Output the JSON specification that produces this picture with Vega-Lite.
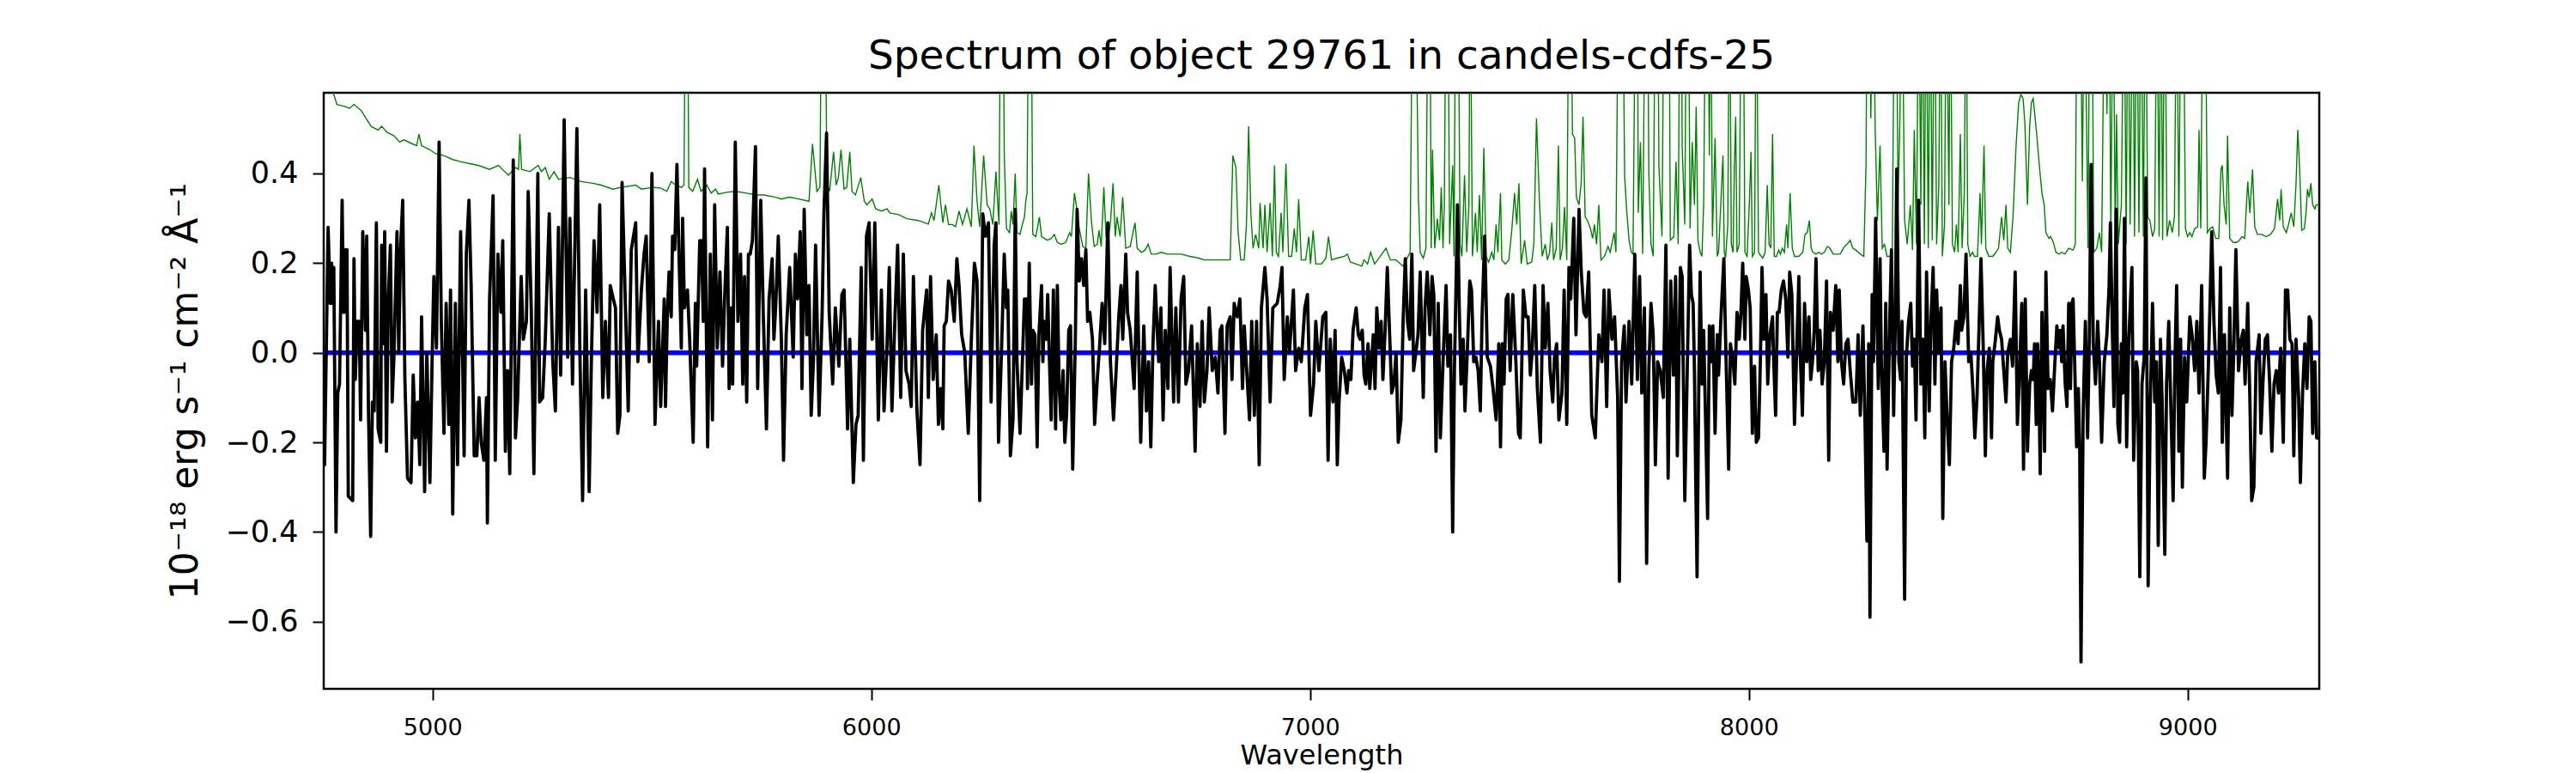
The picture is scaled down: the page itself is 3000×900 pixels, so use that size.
{
  "$schema": "https://vega.github.io/schema/vega-lite/v6.json",
  "autosize": "none",
  "padding": {"left": 377, "top": 108, "right": 299, "bottom": 98},
  "width": 2324,
  "height": 694,
  "background": "white",
  "config": {
    "font": "DejaVu Sans",
    "view": {"stroke": "black", "strokeWidth": 2.5},
    "axis": {
      "grid": false,
      "domain": false,
      "tickColor": "black",
      "tickWidth": 2,
      "tickSize": 13,
      "labelColor": "black",
      "titleColor": "black",
      "titleFontWeight": "normal"
    }
  },
  "title": {
    "text": "Spectrum of object 29761 in candels-cdfs-25",
    "fontSize": 47,
    "fontWeight": "normal",
    "color": "black",
    "anchor": "middle",
    "baseline": "alphabetic",
    "offset": -19
  },
  "datasets": {
    "err": [
      {"w":4752,"f":0.62},{"w":4775,"f":0.576},{"w":4782,"f":0.554},{"w":4801,"f":0.549},{"w":4811,"f":0.545},{"w":4821,"f":0.554},{"w":4837,"f":0.541},{"w":4860,"f":0.505},{"w":4876,"f":0.497},{"w":4884,"f":0.505},{"w":4896,"f":0.492},{"w":4912,"f":0.484},{"w":4925,"f":0.470},{"w":4935,"f":0.475},{"w":4954,"f":0.466},{"w":4964,"f":0.462},{"w":4969,"f":0.488},{"w":4975,"f":0.462},{"w":4994,"f":0.453},{"w":5007,"f":0.444},{"w":5026,"f":0.440},{"w":5046,"f":0.431},{"w":5065,"f":0.426},{"w":5085,"f":0.422},{"w":5104,"f":0.418},{"w":5130,"f":0.409},{"w":5150,"f":0.418},{"w":5173,"f":0.396},{"w":5189,"f":0.413},{"w":5196,"f":0.409},{"w":5199,"f":0.488},{"w":5203,"f":0.409},{"w":5222,"f":0.404},{"w":5241,"f":0.418},{"w":5248,"f":0.404},{"w":5257,"f":0.413},{"w":5266,"f":0.387},{"w":5277,"f":0.404},{"w":5287,"f":0.387},{"w":5313,"f":0.391},{"w":5339,"f":0.382},{"w":5365,"f":0.378},{"w":5384,"f":0.374},{"w":5411,"f":0.365},{"w":5430,"f":0.369},{"w":5463,"f":0.374},{"w":5476,"f":0.365},{"w":5502,"f":0.369},{"w":5521,"f":0.367},
      {"w":5534,"f":0.360},{"w":5544,"f":0.382},{"w":5554,"f":0.374},{"w":5567,"f":0.369},{"w":5573,"f":0.374},{"w":5577,"f":0.9},{"w":5581,"f":0.9},{"w":5584,"f":0.369},{"w":5593,"f":0.360},{"w":5604,"f":0.387},{"w":5612,"f":0.360},{"w":5625,"f":0.374},{"w":5635,"f":0.356},{"w":5645,"f":0.365},{"w":5651,"f":0.354},{"w":5671,"f":0.358},{"w":5690,"f":0.360},{"w":5716,"f":0.356},{"w":5736,"f":0.352},{"w":5755,"f":0.352},{"w":5782,"f":0.347},{"w":5795,"f":0.343},{"w":5814,"f":0.347},{"w":5834,"f":0.343},{"w":5858,"f":0.338},{"w":5866,"f":0.466},{"w":5876,"f":0.360},{"w":5883,"f":0.369},{"w":5887,"f":0.9},{"w":5894,"f":0.9},{"w":5899,"f":0.374},{"w":5905,"f":0.360},{"w":5914,"f":0.448},{"w":5920,"f":0.374},{"w":5925,"f":0.391},{"w":5931,"f":0.453},{"w":5938,"f":0.365},{"w":5944,"f":0.369},{"w":5951,"f":0.448},{"w":5956,"f":0.360},{"w":5964,"f":0.352},{"w":5976,"f":0.391},{"w":5984,"f":0.338},{"w":5990,"f":0.330},{"w":6002,"f":0.343},{"w":6010,"f":0.321},{"w":6023,"f":0.316},{"w":6036,"f":0.321},{"w":6042,"f":0.312},{"w":6062,"f":0.308},{"w":6081,"f":0.299},{"w":6107,"f":0.295},{"w":6130,"f":0.287},{"w":6137,"f":0.312},{"w":6143,"f":0.295},{"w":6154,"f":0.374},{"w":6163,"f":0.290},{"w":6169,"f":0.330},{"w":6176,"f":0.286},{"w":6185,"f":0.286},{"w":6192,"f":0.281},{"w":6200,"f":0.316},{"w":6208,"f":0.286},{"w":6218,"f":0.321},{"w":6228,"f":0.281},{"w":6234,"f":0.462},{"w":6241,"f":0.338},{"w":6247,"f":0.281},{"w":6256,"f":0.440},{"w":6264,"f":0.330},{"w":6270,"f":0.321},{"w":6277,"f":0.286},{"w":6284,"f":0.404},{"w":6291,"f":0.286},{"w":6295,"f":0.9},{"w":6300,"f":0.9},
      {"w":6303,"f":0.444},{"w":6308,"f":0.277},{"w":6315,"f":0.268},{"w":6319,"f":0.316},{"w":6323,"f":0.286},{"w":6328,"f":0.400},{"w":6332,"f":0.268},{"w":6339,"f":0.264},{"w":6343,"f":0.281},{"w":6349,"f":0.303},{"w":6352,"f":0.338},{"w":6355,"f":0.356},{"w":6359,"f":0.9},{"w":6364,"f":0.9},{"w":6368,"f":0.264},{"w":6375,"f":0.259},{"w":6383,"f":0.303},{"w":6388,"f":0.259},{"w":6401,"f":0.251},{"w":6410,"f":0.255},{"w":6417,"f":0.264},{"w":6424,"f":0.246},{"w":6433,"f":0.242},{"w":6443,"f":0.246},{"w":6452,"f":0.268},{"w":6456,"f":0.259},{"w":6463,"f":0.356},{"w":6467,"f":0.330},{"w":6474,"f":0.277},{"w":6482,"f":0.237},{"w":6489,"f":0.233},{"w":6495,"f":0.400},{"w":6502,"f":0.290},{"w":6508,"f":0.237},{"w":6515,"f":0.242},{"w":6519,"f":0.273},{"w":6524,"f":0.237},{"w":6530,"f":0.369},{"w":6535,"f":0.259},{"w":6539,"f":0.246},{"w":6545,"f":0.290},{"w":6551,"f":0.378},{"w":6556,"f":0.259},{"w":6560,"f":0.303},{"w":6567,"f":0.259},{"w":6573,"f":0.347},{"w":6580,"f":0.233},{"w":6590,"f":0.237},{"w":6601,"f":0.290},{"w":6606,"f":0.233},{"w":6616,"f":0.224},{"w":6624,"f":0.229},{"w":6631,"f":0.242},{"w":6638,"f":0.220},{"w":6648,"f":0.220},{"w":6661,"f":0.224},{"w":6674,"f":0.220},{"w":6694,"f":0.220},{"w":6707,"f":0.220},{"w":6726,"f":0.215},{"w":6746,"f":0.211},{"w":6759,"f":0.207},{"w":6785,"f":0.207},{"w":6818,"f":0.207},{"w":6824,"f":0.440},{"w":6831,"f":0.413},{"w":6836,"f":0.268},{"w":6842,"f":0.207},{"w":6850,"f":0.207},{"w":6855,"f":0.286},{"w":6860,"f":0.505},{"w":6865,"f":0.312},{"w":6870,"f":0.233},{"w":6876,"f":0.264},{"w":6883,"f":0.233},{"w":6886,"f":0.334},{"w":6893,"f":0.233},{"w":6897,"f":0.330},{"w":6902,"f":0.224},{"w":6909,"f":0.334},{"w":6914,"f":0.215},{"w":6919,"f":0.418},{"w":6923,"f":0.224},{"w":6928,"f":0.215},{"w":6934,"f":0.312},{"w":6938,"f":0.224},{"w":6945,"f":0.422},{"w":6951,"f":0.215},{"w":6958,"f":0.215},{"w":6964,"f":0.277},{"w":6969,"f":0.224},{"w":6974,"f":0.343},{"w":6980,"f":0.207},{"w":6990,"f":0.207},{"w":6997,"f":0.259},{"w":7001,"f":0.198},{"w":7007,"f":0.273},{"w":7013,"f":0.198},{"w":7026,"f":0.198},{"w":7036,"f":0.211},{"w":7042,"f":0.259},{"w":7049,"f":0.207},{"w":7062,"f":0.211},{"w":7078,"f":0.215},{"w":7085,"f":0.220},
      {"w":7092,"f":0.202},{"w":7105,"f":0.198},{"w":7118,"f":0.193},{"w":7123,"f":0.207},{"w":7131,"f":0.198},{"w":7138,"f":0.224},{"w":7147,"f":0.198},{"w":7160,"f":0.215},{"w":7173,"f":0.233},{"w":7183,"f":0.207},{"w":7196,"f":0.207},{"w":7212,"f":0.193},{"w":7228,"f":0.224},{"w":7234,"f":0.9},{"w":7240,"f":0.9},{"w":7247,"f":0.343},{"w":7251,"f":0.224},{"w":7258,"f":0.211},{"w":7264,"f":0.233},{"w":7269,"f":0.9},{"w":7273,"f":0.9},{"w":7276,"f":0.233},{"w":7279,"f":0.453},{"w":7284,"f":0.233},{"w":7290,"f":0.299},{"w":7295,"f":0.251},{"w":7299,"f":0.369},{"w":7303,"f":0.233},{"w":7306,"f":0.330},{"w":7310,"f":0.9},{"w":7314,"f":0.9},{"w":7318,"f":0.242},{"w":7325,"f":0.418},{"w":7328,"f":0.215},{"w":7332,"f":0.9},{"w":7337,"f":0.9},{"w":7342,"f":0.242},{"w":7346,"f":0.215},{"w":7352,"f":0.396},{"w":7357,"f":0.224},{"w":7362,"f":0.330},{"w":7365,"f":0.9},{"w":7370,"f":0.215},{"w":7377,"f":0.312},{"w":7381,"f":0.224},{"w":7386,"f":0.352},{"w":7391,"f":0.207},{"w":7396,"f":0.457},{"w":7401,"f":0.215},{"w":7407,"f":0.202},{"w":7414,"f":0.224},{"w":7419,"f":0.207},{"w":7424,"f":0.286},{"w":7428,"f":0.224},{"w":7434,"f":0.356},{"w":7437,"f":0.207},{"w":7445,"f":0.198},{"w":7453,"f":0.207},{"w":7460,"f":0.277},{"w":7466,"f":0.356},{"w":7471,"f":0.286},{"w":7476,"f":0.378},{"w":7481,"f":0.198},{"w":7489,"f":0.251},{"w":7495,"f":0.198},{"w":7505,"f":0.202},{"w":7510,"f":0.242},{"w":7516,"f":0.523},{"w":7523,"f":0.330},{"w":7529,"f":0.215},{"w":7536,"f":0.242},{"w":7541,"f":0.207},{"w":7546,"f":0.224},{"w":7551,"f":0.290},{"w":7555,"f":0.207},{"w":7561,"f":0.233},{"w":7566,"f":0.462},{"w":7570,"f":0.207},{"w":7575,"f":0.233},{"w":7580,"f":0.325},{"w":7585,"f":0.207},{"w":7590,"f":0.9},{"w":7594,"f":0.9},{"w":7598,"f":0.488},{"w":7603,"f":0.479},{"w":7607,"f":0.347},{"w":7613,"f":0.330},{"w":7618,"f":0.382},{"w":7622,"f":0.527},{"w":7627,"f":0.303},{"w":7632,"f":0.295},{"w":7639,"f":0.277},{"w":7644,"f":0.255},{"w":7648,"f":0.286},{"w":7653,"f":0.242},{"w":7658,"f":0.330},{"w":7663,"f":0.207},{"w":7671,"f":0.215},{"w":7679,"f":0.237},{"w":7684,"f":0.224},{"w":7693,"f":0.268},{"w":7697,"f":0.224},{"w":7703,"f":0.9},{"w":7707,"f":0.9},{"w":7712,"f":0.9},{"w":7717,"f":0.391},{"w":7722,"f":0.312},{"w":7727,"f":0.251},{"w":7732,"f":0.224},{"w":7736,"f":0.220},{"w":7742,"f":0.9},{"w":7746,"f":0.9},{"w":7748,"f":0.312},{"w":7753,"f":0.470},{"w":7758,"f":0.220},{"w":7764,"f":0.9},{"w":7769,"f":0.9},{"w":7772,"f":0.400},{"w":7777,"f":0.242},{"w":7782,"f":0.215},{"w":7787,"f":0.9},{"w":7792,"f":0.9},{"w":7795,"f":0.418},{"w":7802,"f":0.259},{"w":7807,"f":0.9},{"w":7813,"f":0.9},{"w":7818,"f":0.9},{"w":7821,"f":0.251},{"w":7829,"f":0.259},{"w":7834,"f":0.426},{"w":7839,"f":0.242},{"w":7843,"f":0.9},{"w":7846,"f":0.9},{"w":7848,"f":0.462},{"w":7854,"f":0.286},{"w":7858,"f":0.9},{"w":7862,"f":0.9},{"w":7866,"f":0.277},
      {"w":7871,"f":0.470},{"w":7876,"f":0.330},{"w":7880,"f":0.549},{"w":7884,"f":0.251},{"w":7889,"f":0.224},{"w":7893,"f":0.215},{"w":7897,"f":0.330},{"w":7902,"f":0.9},{"w":7906,"f":0.9},{"w":7910,"f":0.440},{"w":7913,"f":0.9},{"w":7917,"f":0.259},{"w":7919,"f":0.330},{"w":7923,"f":0.479},{"w":7928,"f":0.215},{"w":7931,"f":0.224},{"w":7936,"f":0.330},{"w":7941,"f":0.440},{"w":7944,"f":0.224},{"w":7947,"f":0.211},{"w":7952,"f":0.286},{"w":7956,"f":0.9},{"w":7960,"f":0.242},{"w":7964,"f":0.224},{"w":7967,"f":0.418},{"w":7970,"f":0.527},{"w":7973,"f":0.224},{"w":7978,"f":0.242},{"w":7983,"f":0.9},{"w":7987,"f":0.9},{"w":7991,"f":0.224},{"w":7996,"f":0.215},{"w":8001,"f":0.330},{"w":8005,"f":0.448},{"w":8008,"f":0.215},{"w":8013,"f":0.224},{"w":8017,"f":0.9},{"w":8022,"f":0.224},{"w":8028,"f":0.215},{"w":8032,"f":0.211},{"w":8037,"f":0.224},{"w":8042,"f":0.374},{"w":8046,"f":0.242},{"w":8050,"f":0.233},{"w":8054,"f":0.488},{"w":8058,"f":0.215},{"w":8063,"f":0.215},{"w":8068,"f":0.229},{"w":8072,"f":0.220},{"w":8076,"f":0.233},{"w":8081,"f":0.224},{"w":8086,"f":0.286},{"w":8089,"f":0.233},{"w":8094,"f":0.356},{"w":8099,"f":0.233},{"w":8104,"f":0.215},{"w":8114,"f":0.215},{"w":8123,"f":0.224},{"w":8128,"f":0.264},{"w":8133,"f":0.268},{"w":8138,"f":0.295},{"w":8142,"f":0.233},{"w":8146,"f":0.224},{"w":8153,"f":0.220},{"w":8159,"f":0.224},{"w":8166,"f":0.220},{"w":8172,"f":0.224},{"w":8179,"f":0.237},{"w":8185,"f":0.233},{"w":8192,"f":0.220},{"w":8198,"f":0.220},{"w":8208,"f":0.220},{"w":8218,"f":0.237},{"w":8224,"f":0.242},{"w":8231,"f":0.251},{"w":8237,"f":0.233},{"w":8244,"f":0.229},{"w":8254,"f":0.220},{"w":8262,"f":0.215},{"w":8267,"f":0.418},{"w":8270,"f":0.9},{"w":8274,"f":0.9},{"w":8278,"f":0.523},{"w":8283,"f":0.9},{"w":8288,"f":0.497},{"w":8293,"f":0.295},{"w":8299,"f":0.462},{"w":8304,"f":0.233},{"w":8309,"f":0.242},{"w":8315,"f":0.215},{"w":8322,"f":0.215},{"w":8327,"f":0.233},{"w":8332,"f":0.9},{"w":8336,"f":0.9},{"w":8340,"f":0.330},{"w":8344,"f":0.505},{"w":8349,"f":0.9},{"w":8355,"f":0.295},{"w":8361,"f":0.242},{"w":8368,"f":0.330},{"w":8373,"f":0.229},{"w":8377,"f":0.497},{"w":8382,"f":0.242},{"w":8387,"f":0.9},{"w":8392,"f":0.330},{"w":8395,"f":0.9},{"w":8400,"f":0.242},{"w":8404,"f":0.9},{"w":8409,"f":0.233},{"w":8413,"f":0.9},{"w":8418,"f":0.251},{"w":8423,"f":0.9},{"w":8428,"f":0.242},{"w":8433,"f":0.374},{"w":8437,"f":0.9},{"w":8441,"f":0.215},{"w":8446,"f":0.286},{"w":8450,"f":0.9},{"w":8456,"f":0.330},{"w":8459,"f":0.9},{"w":8464,"f":0.242},{"w":8469,"f":0.224},{"w":8473,"f":0.286},{"w":8477,"f":0.224},{"w":8482,"f":0.488},{"w":8486,"f":0.233},{"w":8491,"f":0.356},{"w":8495,"f":0.9},{"w":8499,"f":0.242},{"w":8504,"f":0.215},{"w":8510,"f":0.224},{"w":8514,"f":0.215},{"w":8521,"f":0.215},{"w":8527,"f":0.356},{"w":8530,"f":0.242},{"w":8536,"f":0.462},{"w":8540,"f":0.233},{"w":8547,"f":0.215},{"w":8556,"f":0.215},{"w":8563,"f":0.224},{"w":8569,"f":0.233},{"w":8576,"f":0.303},{"w":8581,"f":0.251},{"w":8586,"f":0.330},{"w":8590,"f":0.233},{"w":8596,"f":0.224},{"w":8602,"f":0.303},{"w":8609,"f":0.462},{"w":8615,"f":0.558},{"w":8620,"f":0.576},{"w":8625,"f":0.567},{"w":8629,"f":0.514},{"w":8635,"f":0.330},{"w":8640,"f":0.505},{"w":8644,"f":0.558},
      {"w":8648,"f":0.567},{"w":8656,"f":0.488},{"w":8662,"f":0.418},{"w":8668,"f":0.356},{"w":8673,"f":0.330},{"w":8677,"f":0.268},{"w":8684,"f":0.255},{"w":8688,"f":0.259},{"w":8694,"f":0.246},{"w":8700,"f":0.224},{"w":8707,"f":0.220},{"w":8713,"f":0.224},{"w":8720,"f":0.220},{"w":8729,"f":0.233},{"w":8739,"f":0.229},{"w":8744,"f":0.242},{"w":8748,"f":0.9},{"w":8755,"f":0.9},{"w":8760,"f":0.382},{"w":8765,"f":0.9},{"w":8773,"f":0.233},{"w":8777,"f":0.9},{"w":8782,"f":0.9},{"w":8786,"f":0.224},{"w":8793,"f":0.233},{"w":8799,"f":0.268},{"w":8804,"f":0.224},{"w":8811,"f":0.9},{"w":8816,"f":0.532},{"w":8821,"f":0.9},{"w":8825,"f":0.251},{"w":8830,"f":0.9},{"w":8835,"f":0.259},{"w":8838,"f":0.532},{"w":8842,"f":0.242},{"w":8849,"f":0.330},{"w":8855,"f":0.9},{"w":8860,"f":0.242},{"w":8864,"f":0.9},{"w":8869,"f":0.286},{"w":8875,"f":0.9},{"w":8879,"f":0.259},{"w":8884,"f":0.9},{"w":8889,"f":0.268},{"w":8894,"f":0.9},{"w":8899,"f":0.259},{"w":8904,"f":0.9},{"w":8909,"f":0.303},{"w":8914,"f":0.295},{"w":8920,"f":0.259},{"w":8925,"f":0.277},{"w":8930,"f":0.9},{"w":8935,"f":0.259},{"w":8939,"f":0.9},{"w":8943,"f":0.251},{"w":8948,"f":0.9},{"w":8953,"f":0.259},{"w":8959,"f":0.295},{"w":8965,"f":0.268},{"w":8970,"f":0.303},{"w":8975,"f":0.9},{"w":8980,"f":0.259},{"w":8985,"f":0.9},{"w":8990,"f":0.9},{"w":8995,"f":0.277},{"w":9000,"f":0.259},{"w":9005,"f":0.268},{"w":9010,"f":0.259},{"w":9016,"f":0.277},{"w":9023,"f":0.281},{"w":9026,"f":0.497},{"w":9030,"f":0.277},{"w":9035,"f":0.9},{"w":9040,"f":0.9},{"w":9045,"f":0.268},{"w":9051,"f":0.277},{"w":9057,"f":0.281},{"w":9064,"f":0.255},{"w":9071,"f":0.255},{"w":9076,"f":0.409},{"w":9079,"f":0.418},{"w":9083,"f":0.330},{"w":9088,"f":0.286},{"w":9091,"f":0.484},{"w":9096,"f":0.255},{"w":9104,"f":0.246},{"w":9112,"f":0.246},{"w":9118,"f":0.251},{"w":9124,"f":0.259},{"w":9130,"f":0.255},{"w":9137,"f":0.382},{"w":9142,"f":0.312},{"w":9148,"f":0.409},{"w":9153,"f":0.281},{"w":9159,"f":0.264},{"w":9169,"f":0.264},{"w":9179,"f":0.259},{"w":9189,"f":0.264},{"w":9198,"f":0.277},{"w":9205,"f":0.343},{"w":9210,"f":0.295},{"w":9213,"f":0.365},{"w":9218,"f":0.281},{"w":9225,"f":0.268},{"w":9231,"f":0.290},{"w":9236,"f":0.312},{"w":9242,"f":0.281},{"w":9247,"f":0.374},{"w":9251,"f":0.497},{"w":9255,"f":0.418},{"w":9260,"f":0.273},{"w":9266,"f":0.277},{"w":9270,"f":0.312},{"w":9273,"f":0.365},{"w":9277,"f":0.347},{"w":9281,"f":0.378},{"w":9285,"f":0.330},{"w":9290,"f":0.321},{"w":9293,"f":0.330},{"w":9300,"f":0.330}
    ],
    "model": [{"w":4752,"f":0},{"w":9300,"f":0}],
    "flux": [
      {"w":4752,"f":-0.01},{"w":4754,"f":-0.25},{"w":4762,"f":0.28},{"w":4767,"f":0.11},{"w":4770,"f":0.20},{"w":4772,"f":0.11},{"w":4775,"f":0.19},{"w":4780,"f":-0.40},{"w":4784,"f":-0.09},{"w":4788,"f":-0.07},{"w":4794,"f":0.34},{"w":4797,"f":0.09},{"w":4800,"f":0.23},{"w":4803,"f":0.09},{"w":4805,"f":0.23},{"w":4808,"f":-0.32},{"w":4818,"f":-0.33},{"w":4821,"f":0.21},{"w":4824,"f":-0.06},{"w":4828,"f":0.07},{"w":4833,"f":0.07},{"w":4836,"f":-0.15},{"w":4841,"f":0.27},{"w":4847,"f":0.05},{"w":4850,"f":0.26},{"w":4854,"f":-0.13},{"w":4859,"f":-0.41},{"w":4863,"f":-0.11},{"w":4867,"f":-0.13},{"w":4872,"f":0.29},{"w":4876,"f":-0.17},{"w":4882,"f":-0.20},{"w":4884,"f":0.24},{"w":4888,"f":0.02},{"w":4891,"f":0.27},{"w":4895,"f":-0.22},{"w":4899,"f":0.11},{"w":4904,"f":0.24},{"w":4908,"f":-0.11},{"w":4912,"f":-0.01},{"w":4919,"f":0.27},{"w":4923,"f":0.00},{"w":4927,"f":0.23},{"w":4932,"f":0.34},{"w":4937,"f":-0.06},{"w":4943,"f":-0.28},{"w":4951,"f":-0.29},{"w":4956,"f":-0.05},{"w":4961,"f":-0.19},{"w":4966,"f":-0.11},{"w":4971,"f":-0.25},{"w":4975,"f":0.08},{"w":4982,"f":-0.31},{"w":4987,"f":0.00},{"w":4994,"f":-0.29},{"w":4999,"f":-0.02},{"w":5003,"f":0.17},{"w":5009,"f":0.01},{"w":5015,"f":0.47},{"w":5020,"f":0.07},{"w":5026,"f":-0.18},{"w":5031,"f":0.11},{"w":5037,"f":-0.16},{"w":5041,"f":0.14},{"w":5046,"f":-0.36},{"w":5052,"f":0.11},{"w":5057,"f":-0.25},{"w":5064,"f":0.27},{"w":5072,"f":-0.23},{"w":5077,"f":0.22},{"w":5083,"f":0.34},{"w":5088,"f":0.15},{"w":5095,"f":-0.23},{"w":5101,"f":-0.23},{"w":5106,"f":-0.10},{"w":5111,"f":-0.20},{"w":5117,"f":-0.24},{"w":5123,"f":-0.10},{"w":5125,"f":-0.38},{"w":5130,"f":0.12},{"w":5138,"f":0.35},{"w":5143,"f":-0.24},{"w":5149,"f":0.22},{"w":5156,"f":0.09},{"w":5160,"f":0.25},{"w":5166,"f":-0.22},{"w":5171,"f":-0.04},{"w":5176,"f":-0.27},{"w":5184,"f":0.43},{"w":5189,"f":-0.19},{"w":5194,"f":-0.10},{"w":5202,"f":0.17},{"w":5207,"f":0.03},{"w":5214,"f":0.07},{"w":5218,"f":0.36},{"w":5225,"f":0.10},{"w":5231,"f":-0.27},{"w":5240,"f":0.40},{"w":5244,"f":-0.11},{"w":5251,"f":-0.10},{"w":5257,"f":0.03},{"w":5266,"f":0.31},{"w":5274,"f":-0.02},{"w":5280,"f":-0.13},{"w":5287,"f":0.28},{"w":5292,"f":-0.05},{"w":5300,"f":0.52},{"w":5308,"f":-0.01},{"w":5313,"f":0.30},{"w":5319,"f":-0.07},{"w":5329,"f":0.50},{"w":5336,"f":-0.01},{"w":5342,"f":-0.33},{"w":5349,"f":0.14},{"w":5357,"f":-0.31},{"w":5362,"f":-0.02},{"w":5368,"f":0.25},{"w":5375,"f":0.09},{"w":5381,"f":0.33},{"w":5388,"f":-0.10},{"w":5394,"f":0.07},{"w":5401,"f":-0.10},{"w":5405,"f":0.15},{"w":5412,"f":0.12},{"w":5417,"f":0.10},{"w":5422,"f":-0.18},{"w":5427,"f":-0.14},{"w":5432,"f":0.38},{"w":5440,"f":0.09},{"w":5446,"f":-0.13},{"w":5453,"f":0.23},{"w":5463,"f":0.29},{"w":5468,"f":-0.02},{"w":5476,"f":0.14},{"w":5482,"f":0.22},{"w":5487,"f":0.26},{"w":5494,"f":-0.02},{"w":5500,"f":0.40},{"w":5507,"f":-0.16},{"w":5515,"f":0.07},{"w":5520,"f":-0.12},
      {"w":5528,"f":0.12},{"w":5531,"f":-0.12},{"w":5535,"f":0.08},{"w":5539,"f":0.18},{"w":5544,"f":0.08},{"w":5547,"f":0.26},{"w":5552,"f":0.23},{"w":5557,"f":0.42},{"w":5561,"f":0.25},{"w":5567,"f":0.01},{"w":5570,"f":0.30},{"w":5574,"f":0.10},{"w":5581,"f":0.14},{"w":5586,"f":0.03},{"w":5594,"f":-0.20},{"w":5599,"f":0.11},{"w":5602,"f":-0.03},{"w":5609,"f":0.25},{"w":5613,"f":0.25},{"w":5617,"f":0.07},{"w":5620,"f":0.41},{"w":5627,"f":-0.21},{"w":5633,"f":0.22},{"w":5638,"f":-0.15},{"w":5643,"f":0.33},{"w":5649,"f":0.01},{"w":5655,"f":0.18},{"w":5661,"f":-0.03},{"w":5666,"f":0.13},{"w":5672,"f":0.28},{"w":5676,"f":-0.08},{"w":5681,"f":0.10},{"w":5684,"f":-0.07},{"w":5690,"f":0.47},{"w":5696,"f":0.07},{"w":5702,"f":0.22},{"w":5707,"f":-0.07},{"w":5711,"f":0.17},{"w":5716,"f":-0.11},{"w":5720,"f":0.22},{"w":5724,"f":0.22},{"w":5729,"f":0.25},{"w":5736,"f":0.46},{"w":5741,"f":-0.08},{"w":5748,"f":0.34},{"w":5754,"f":0.08},{"w":5761,"f":-0.17},{"w":5767,"f":0.12},{"w":5774,"f":0.21},{"w":5778,"f":0.03},{"w":5782,"f":0.10},{"w":5788,"f":0.26},{"w":5795,"f":0.03},{"w":5800,"f":-0.24},{"w":5806,"f":0.04},{"w":5814,"f":0.19},{"w":5822,"f":-0.01},{"w":5827,"f":0.22},{"w":5832,"f":0.12},{"w":5838,"f":0.27},{"w":5842,"f":-0.08},{"w":5847,"f":0.32},{"w":5853,"f":0.04},{"w":5858,"f":0.15},{"w":5863,"f":-0.14},{"w":5868,"f":-0.02},{"w":5873,"f":0.24},{"w":5881,"f":-0.14},{"w":5888,"f":0.09},{"w":5892,"f":0.31},{"w":5898,"f":0.49},{"w":5904,"f":0.09},{"w":5912,"f":-0.07},{"w":5918,"f":0.10},{"w":5926,"f":-0.03},{"w":5933,"f":0.13},{"w":5938,"f":0.14},{"w":5946,"f":-0.17},{"w":5951,"f":0.03},{"w":5959,"f":-0.29},{"w":5965,"f":-0.16},{"w":5970,"f":-0.14},{"w":5977,"f":0.19},{"w":5982,"f":-0.24},{"w":5989,"f":0.26},{"w":5995,"f":0.29},{"w":6002,"f":0.03},{"w":6008,"f":0.29},{"w":6016,"f":-0.15},{"w":6023,"f":0.14},{"w":6029,"f":-0.13},{"w":6036,"f":0.02},{"w":6041,"f":0.19},{"w":6047,"f":-0.13},{"w":6054,"f":0.08},{"w":6060,"f":0.24},{"w":6067,"f":-0.10},{"w":6073,"f":0.22},{"w":6079,"f":-0.04},{"w":6086,"f":-0.07},{"w":6091,"f":-0.12},{"w":6096,"f":0.17},{"w":6104,"f":-0.13},{"w":6111,"f":-0.25},{"w":6117,"f":0.05},{"w":6126,"f":0.14},{"w":6130,"f":-0.10},{"w":6135,"f":0.17},{"w":6141,"f":-0.06},{"w":6148,"f":0.04},{"w":6153,"f":-0.16},{"w":6158,"f":-0.08},{"w":6163,"f":-0.17},{"w":6166,"f":0.06},{"w":6171,"f":0.07},{"w":6176,"f":0.16},{"w":6182,"f":0.14},{"w":6189,"f":0.07},{"w":6195,"f":0.21},{"w":6200,"f":0.15},{"w":6206,"f":0.04},{"w":6213,"f":0.00},{"w":6221,"f":-0.18},{"w":6228,"f":0.03},{"w":6235,"f":0.20},{"w":6241,"f":0.16},{"w":6247,"f":-0.33},{"w":6254,"f":0.31},{"w":6260,"f":0.26},{"w":6267,"f":0.29},{"w":6273,"f":-0.11},{"w":6280,"f":0.24},{"w":6284,"f":0.29},{"w":6290,"f":-0.20},{"w":6296,"f":-0.02},{"w":6303,"f":0.22},
      {"w":6308,"f":0.10},{"w":6311,"f":0.14},{"w":6317,"f":-0.23},{"w":6323,"f":-0.15},{"w":6328,"f":0.32},{"w":6332,"f":-0.02},{"w":6339,"f":-0.18},{"w":6343,"f":-0.06},{"w":6349,"f":0.12},{"w":6354,"f":0.12},{"w":6356,"f":-0.08},{"w":6360,"f":0.20},{"w":6365,"f":-0.07},{"w":6368,"f":0.05},{"w":6373,"f":0.04},{"w":6378,"f":-0.21},{"w":6382,"f":0.04},{"w":6388,"f":0.15},{"w":6391,"f":-0.02},{"w":6394,"f":0.07},{"w":6399,"f":0.03},{"w":6402,"f":0.13},{"w":6406,"f":-0.02},{"w":6410,"f":-0.15},{"w":6415,"f":0.14},{"w":6420,"f":-0.17},{"w":6424,"f":0.15},{"w":6428,"f":-0.07},{"w":6432,"f":-0.15},{"w":6437,"f":-0.04},{"w":6441,"f":-0.20},{"w":6445,"f":-0.14},{"w":6450,"f":0.05},{"w":6454,"f":0.06},{"w":6459,"f":-0.26},{"w":6465,"f":0.03},{"w":6469,"f":0.32},{"w":6474,"f":0.16},{"w":6479,"f":0.21},{"w":6484,"f":0.15},{"w":6489,"f":0.23},{"w":6493,"f":0.07},{"w":6498,"f":0.09},{"w":6504,"f":0.03},{"w":6509,"f":-0.16},{"w":6515,"f":-0.06},{"w":6520,"f":0.01},{"w":6526,"f":0.11},{"w":6532,"f":0.02},{"w":6539,"f":0.29},{"w":6545,"f":-0.02},{"w":6552,"f":-0.15},{"w":6558,"f":-0.04},{"w":6564,"f":0.08},{"w":6569,"f":0.15},{"w":6573,"f":0.03},{"w":6580,"f":0.22},{"w":6584,"f":0.09},{"w":6590,"f":0.05},{"w":6595,"f":-0.02},{"w":6599,"f":-0.08},{"w":6606,"f":0.18},{"w":6610,"f":-0.02},{"w":6614,"f":-0.20},{"w":6621,"f":0.06},{"w":6627,"f":-0.13},{"w":6632,"f":-0.02},{"w":6637,"f":-0.21},{"w":6642,"f":0.02},{"w":6647,"f":0.15},{"w":6655,"f":-0.02},{"w":6660,"f":0.10},{"w":6665,"f":-0.15},{"w":6670,"f":0.05},{"w":6676,"f":-0.08},{"w":6681,"f":0.19},{"w":6689,"f":-0.11},{"w":6694,"f":0.10},{"w":6700,"f":-0.11},{"w":6706,"f":0.12},{"w":6712,"f":0.17},{"w":6717,"f":-0.07},{"w":6723,"f":-0.04},{"w":6730,"f":0.06},{"w":6738,"f":-0.22},{"w":6743,"f":0.02},{"w":6749,"f":-0.12},{"w":6754,"f":0.07},{"w":6759,"f":-0.11},{"w":6765,"f":-0.04},{"w":6770,"f":0.10},{"w":6777,"f":-0.04},{"w":6784,"f":-0.01},{"w":6790,"f":-0.09},{"w":6795,"f":0.05},{"w":6799,"f":0.06},{"w":6806,"f":-0.18},{"w":6811,"f":0.06},{"w":6818,"f":0.08},{"w":6822,"f":-0.06},{"w":6827,"f":0.11},{"w":6834,"f":0.08},{"w":6840,"f":0.12},{"w":6846,"f":-0.08},{"w":6850,"f":0.06},{"w":6855,"f":-0.03},{"w":6862,"f":-0.15},{"w":6867,"f":0.07},{"w":6873,"f":-0.14},{"w":6878,"f":0.07},{"w":6884,"f":-0.25},{"w":6889,"f":0.10},{"w":6897,"f":0.19},{"w":6902,"f":0.12},{"w":6909,"f":-0.11},{"w":6915,"f":0.10},{"w":6925,"f":0.11},{"w":6932,"f":0.15},{"w":6936,"f":0.19},{"w":6941,"f":-0.06},{"w":6948,"f":0.08},{"w":6953,"f":0.00},{"w":6962,"f":0.14},{"w":6967,"f":-0.04},{"w":6974,"f":0.01},{"w":6980,"f":-0.02},{"w":6988,"f":0.10},{"w":6994,"f":0.13},{"w":7001,"f":-0.14},{"w":7008,"f":-0.07},{"w":7013,"f":0.07},{"w":7020,"f":-0.04},{"w":7029,"f":0.08},{"w":7036,"f":0.09},{"w":7041,"f":-0.24},{"w":7046,"f":0.03},{"w":7052,"f":-0.11},{"w":7057,"f":0.05},{"w":7062,"f":-0.25},{"w":7066,"f":-0.11},{"w":7072,"f":-0.01},{"w":7078,"f":-0.04},{"w":7084,"f":-0.09},
      {"w":7088,"f":-0.04},{"w":7093,"f":-0.06},{"w":7098,"f":0.05},{"w":7105,"f":0.10},{"w":7110,"f":0.04},{"w":7114,"f":0.03},{"w":7119,"f":0.05},{"w":7123,"f":-0.05},{"w":7127,"f":-0.07},{"w":7132,"f":0.02},{"w":7136,"f":-0.08},{"w":7140,"f":-0.02},{"w":7144,"f":0.04},{"w":7148,"f":-0.08},{"w":7152,"f":0.10},{"w":7157,"f":0.01},{"w":7162,"f":0.07},{"w":7166,"f":-0.06},{"w":7171,"f":0.05},{"w":7176,"f":0.19},{"w":7181,"f":0.05},{"w":7186,"f":-0.09},{"w":7191,"f":-0.07},{"w":7196,"f":0.00},{"w":7201,"f":-0.20},{"w":7207,"f":-0.15},{"w":7212,"f":0.07},{"w":7217,"f":0.21},{"w":7222,"f":0.07},{"w":7227,"f":0.03},{"w":7232,"f":0.22},{"w":7236,"f":-0.04},{"w":7241,"f":0.00},{"w":7246,"f":0.04},{"w":7251,"f":0.18},{"w":7258,"f":-0.10},{"w":7262,"f":0.10},{"w":7267,"f":0.18},{"w":7273,"f":0.04},{"w":7278,"f":0.17},{"w":7282,"f":0.13},{"w":7287,"f":-0.22},{"w":7292,"f":0.11},{"w":7297,"f":-0.19},{"w":7303,"f":-0.02},{"w":7310,"f":0.15},{"w":7314,"f":-0.03},{"w":7320,"f":0.04},{"w":7325,"f":-0.40},{"w":7329,"f":-0.04},{"w":7336,"f":0.33},{"w":7340,"f":0.10},{"w":7344,"f":-0.07},{"w":7349,"f":0.03},{"w":7353,"f":-0.13},{"w":7359,"f":0.02},{"w":7364,"f":0.16},{"w":7368,"f":0.14},{"w":7373,"f":-0.02},{"w":7378,"f":-0.01},{"w":7383,"f":-0.04},{"w":7388,"f":-0.13},{"w":7392,"f":0.08},{"w":7398,"f":0.26},{"w":7404,"f":-0.01},{"w":7411,"f":-0.03},{"w":7417,"f":-0.08},{"w":7424,"f":-0.15},{"w":7430,"f":0.02},{"w":7434,"f":-0.21},{"w":7438,"f":0.02},{"w":7442,"f":-0.07},{"w":7447,"f":0.12},{"w":7451,"f":0.13},{"w":7456,"f":-0.04},{"w":7462,"f":0.13},{"w":7469,"f":-0.02},{"w":7475,"f":-0.18},{"w":7479,"f":-0.19},{"w":7486,"f":0.14},{"w":7492,"f":0.08},{"w":7497,"f":0.08},{"w":7502,"f":-0.05},{"w":7506,"f":0.00},{"w":7512,"f":0.15},{"w":7518,"f":-0.08},{"w":7525,"f":-0.20},{"w":7531,"f":0.15},{"w":7536,"f":0.01},{"w":7542,"f":0.11},{"w":7547,"f":-0.04},{"w":7553,"f":-0.11},{"w":7557,"f":-0.01},{"w":7562,"f":0.02},{"w":7567,"f":-0.15},{"w":7574,"f":-0.09},{"w":7579,"f":0.14},{"w":7585,"f":-0.16},{"w":7590,"f":0.19},{"w":7594,"f":0.12},{"w":7601,"f":0.30},{"w":7606,"f":0.04},{"w":7613,"f":0.32},{"w":7618,"f":0.18},{"w":7624,"f":0.09},{"w":7629,"f":0.08},{"w":7635,"f":0.18},{"w":7642,"f":-0.14},{"w":7650,"f":-0.19},{"w":7658,"f":0.04},{"w":7665,"f":-0.02},{"w":7670,"f":0.14},{"w":7676,"f":-0.12},{"w":7681,"f":0.14},{"w":7688,"f":0.03},{"w":7694,"f":0.08},{"w":7701,"f":-0.10},{"w":7705,"f":-0.51},{"w":7710,"f":-0.02},{"w":7716,"f":0.06},{"w":7720,"f":-0.11},{"w":7727,"f":0.07},{"w":7733,"f":-0.07},{"w":7740,"f":0.22},{"w":7746,"f":-0.06},{"w":7751,"f":0.17},{"w":7756,"f":-0.09},{"w":7762,"f":0.10},{"w":7767,"f":-0.47},{"w":7772,"f":-0.04},{"w":7777,"f":0.11},{"w":7782,"f":0.04},{"w":7787,"f":-0.25},{"w":7792,"f":-0.02},{"w":7798,"f":-0.04},{"w":7805,"f":-0.10},{"w":7811,"f":0.24},{"w":7816,"f":-0.28},{"w":7822,"f":0.16},{"w":7828,"f":-0.05},{"w":7833,"f":0.17},{"w":7837,"f":-0.23},{"w":7844,"f":0.19},{"w":7848,"f":0.17},{"w":7854,"f":-0.33},{"w":7859,"f":-0.07},{"w":7865,"f":0.24},
      {"w":7869,"f":0.13},{"w":7873,"f":0.11},{"w":7876,"f":-0.04},{"w":7879,"f":-0.29},{"w":7882,"f":-0.50},{"w":7886,"f":-0.06},{"w":7889,"f":0.18},{"w":7893,"f":-0.07},{"w":7897,"f":0.05},{"w":7902,"f":-0.18},{"w":7906,"f":-0.37},{"w":7910,"f":0.06},{"w":7914,"f":-0.02},{"w":7918,"f":0.06},{"w":7923,"f":-0.18},{"w":7928,"f":0.04},{"w":7931,"f":-0.05},{"w":7936,"f":0.07},{"w":7943,"f":0.21},{"w":7947,"f":0.03},{"w":7954,"f":-0.26},{"w":7958,"f":0.02},{"w":7964,"f":-0.02},{"w":7968,"f":-0.07},{"w":7973,"f":0.09},{"w":7978,"f":0.03},{"w":7982,"f":0.09},{"w":7986,"f":0.20},{"w":7991,"f":0.03},{"w":7994,"f":0.17},{"w":7999,"f":0.14},{"w":8003,"f":0.10},{"w":8008,"f":-0.18},{"w":8013,"f":-0.03},{"w":8017,"f":-0.20},{"w":8022,"f":-0.19},{"w":8026,"f":-0.03},{"w":8030,"f":0.19},{"w":8034,"f":0.03},{"w":8039,"f":0.13},{"w":8043,"f":-0.07},{"w":8048,"f":0.04},{"w":8054,"f":0.08},{"w":8056,"f":0.00},{"w":8061,"f":-0.14},{"w":8065,"f":0.09},{"w":8069,"f":0.09},{"w":8074,"f":0.14},{"w":8079,"f":0.16},{"w":8084,"f":0.12},{"w":8089,"f":-0.01},{"w":8093,"f":0.18},{"w":8098,"f":0.13},{"w":8104,"f":-0.16},{"w":8108,"f":-0.03},{"w":8114,"f":0.17},{"w":8117,"f":0.00},{"w":8122,"f":-0.14},{"w":8127,"f":0.11},{"w":8132,"f":-0.02},{"w":8137,"f":0.08},{"w":8141,"f":-0.06},{"w":8145,"f":-0.02},{"w":8149,"f":0.05},{"w":8153,"f":0.21},{"w":8158,"f":-0.04},{"w":8162,"f":0.05},{"w":8167,"f":-0.07},{"w":8172,"f":-0.02},{"w":8177,"f":0.16},{"w":8182,"f":-0.24},{"w":8186,"f":0.09},{"w":8192,"f":0.05},{"w":8198,"f":0.15},{"w":8203,"f":-0.02},{"w":8206,"f":0.14},{"w":8211,"f":-0.02},{"w":8216,"f":-0.07},{"w":8221,"f":0.02},{"w":8226,"f":0.03},{"w":8231,"f":-0.04},{"w":8237,"f":-0.11},{"w":8244,"f":-0.11},{"w":8249,"f":0.04},{"w":8254,"f":-0.14},{"w":8260,"f":0.06},{"w":8265,"f":-0.17},{"w":8269,"f":-0.42},{"w":8273,"f":0.02},{"w":8276,"f":-0.59},{"w":8281,"f":0.13},{"w":8284,"f":-0.02},{"w":8289,"f":0.30},{"w":8295,"f":-0.08},{"w":8299,"f":0.21},{"w":8302,"f":-0.02},{"w":8308,"f":-0.22},{"w":8312,"f":0.11},{"w":8315,"f":-0.26},{"w":8321,"f":0.07},{"w":8325,"f":0.23},{"w":8330,"f":-0.14},{"w":8334,"f":0.08},{"w":8337,"f":0.41},{"w":8342,"f":-0.02},{"w":8346,"f":-0.06},{"w":8349,"f":0.07},{"w":8355,"f":-0.55},{"w":8359,"f":-0.01},{"w":8364,"f":0.07},{"w":8369,"f":0.11},{"w":8373,"f":-0.03},{"w":8377,"f":0.03},{"w":8381,"f":-0.15},{"w":8387,"f":0.34},{"w":8392,"f":-0.07},{"w":8397,"f":0.03},{"w":8401,"f":-0.19},{"w":8405,"f":0.18},{"w":8411,"f":-0.13},{"w":8415,"f":0.07},{"w":8420,"f":0.19},{"w":8424,"f":-0.07},{"w":8428,"f":0.14},{"w":8433,"f":0.00},{"w":8438,"f":0.10},{"w":8442,"f":-0.37},{"w":8447,"f":-0.02},{"w":8452,"f":-0.15},{"w":8457,"f":-0.25},{"w":8462,"f":-0.02},{"w":8467,"f":0.01},{"w":8472,"f":0.07},{"w":8477,"f":0.02},{"w":8482,"f":0.15},{"w":8485,"f":0.05},{"w":8490,"f":0.08},{"w":8495,"f":0.22},{"w":8501,"f":-0.02},{"w":8506,"f":0.00},{"w":8511,"f":-0.09},{"w":8515,"f":-0.19},{"w":8520,"f":-0.10},{"w":8525,"f":0.07},{"w":8529,"f":0.21},{"w":8534,"f":0.02},{"w":8539,"f":-0.23},{"w":8543,"f":-0.04},{"w":8548,"f":0.01},{"w":8553,"f":-0.19},{"w":8556,"f":-0.02},{"w":8562,"f":0.03},{"w":8567,"f":0.08},{"w":8571,"f":0.05},{"w":8576,"f":0.03},{"w":8581,"f":-0.04},{"w":8586,"f":-0.11},{"w":8590,"f":0.00},{"w":8596,"f":0.03},{"w":8601,"f":-0.03},{"w":8607,"f":0.18},{"w":8612,"f":-0.16},{"w":8616,"f":-0.07},{"w":8622,"f":0.11},{"w":8626,"f":-0.26},{"w":8630,"f":0.12},{"w":8635,"f":-0.22},{"w":8640,"f":-0.07},{"w":8644,"f":-0.04},
      {"w":8648,"f":-0.06},{"w":8651,"f":0.02},{"w":8655,"f":-0.16},{"w":8658,"f":0.02},{"w":8661,"f":-0.07},{"w":8664,"f":-0.27},{"w":8668,"f":0.09},{"w":8671,"f":-0.04},{"w":8674,"f":-0.22},{"w":8677,"f":0.18},{"w":8682,"f":-0.08},{"w":8687,"f":-0.06},{"w":8692,"f":-0.13},{"w":8697,"f":-0.03},{"w":8702,"f":0.06},{"w":8707,"f":0.01},{"w":8710,"f":0.05},{"w":8713,"f":-0.02},{"w":8716,"f":0.06},{"w":8721,"f":-0.07},{"w":8725,"f":-0.12},{"w":8729,"f":0.11},{"w":8733,"f":-0.08},{"w":8736,"f":0.11},{"w":8739,"f":0.12},{"w":8744,"f":-0.08},{"w":8747,"f":-0.21},{"w":8751,"f":-0.08},{"w":8754,"f":-0.21},{"w":8757,"f":-0.69},{"w":8762,"f":-0.13},{"w":8767,"f":0.07},{"w":8772,"f":-0.19},{"w":8776,"f":0.03},{"w":8780,"f":0.42},{"w":8785,"f":0.02},{"w":8790,"f":-0.07},{"w":8795,"f":0.07},{"w":8799,"f":-0.02},{"w":8804,"f":-0.20},{"w":8810,"f":-0.02},{"w":8816,"f":0.04},{"w":8821,"f":0.15},{"w":8824,"f":0.29},{"w":8828,"f":0.07},{"w":8832,"f":-0.12},{"w":8837,"f":0.32},{"w":8841,"f":-0.16},{"w":8845,"f":-0.20},{"w":8849,"f":0.02},{"w":8853,"f":-0.09},{"w":8856,"f":0.30},{"w":8861,"f":-0.21},{"w":8866,"f":0.03},{"w":8873,"f":0.19},{"w":8877,"f":-0.24},{"w":8883,"f":-0.02},{"w":8886,"f":-0.04},{"w":8891,"f":-0.50},{"w":8896,"f":-0.07},{"w":8901,"f":-0.01},{"w":8905,"f":0.39},{"w":8910,"f":-0.52},{"w":8915,"f":-0.11},{"w":8920,"f":0.11},{"w":8925,"f":-0.11},{"w":8929,"f":-0.02},{"w":8933,"f":-0.43},{"w":8938,"f":0.03},{"w":8942,"f":-0.11},{"w":8948,"f":-0.45},{"w":8952,"f":-0.07},{"w":8957,"f":0.07},{"w":8962,"f":-0.13},{"w":8967,"f":-0.33},{"w":8971,"f":-0.02},{"w":8975,"f":0.15},{"w":8980,"f":-0.22},{"w":8984,"f":0.03},{"w":8988,"f":-0.30},{"w":8993,"f":-0.01},{"w":8998,"f":-0.11},{"w":9005,"f":0.08},{"w":9010,"f":0.04},{"w":9016,"f":-0.04},{"w":9021,"f":0.07},{"w":9026,"f":-0.09},{"w":9032,"f":0.15},{"w":9038,"f":-0.28},{"w":9042,"f":-0.20},{"w":9047,"f":-0.04},{"w":9051,"f":0.11},{"w":9055,"f":0.27},{"w":9060,"f":0.07},{"w":9065,"f":-0.05},{"w":9070,"f":-0.09},{"w":9075,"f":0.19},{"w":9079,"f":-0.20},{"w":9084,"f":0.04},{"w":9091,"f":-0.28},{"w":9096,"f":0.10},{"w":9101,"f":-0.14},{"w":9105,"f":0.00},{"w":9110,"f":0.23},{"w":9116,"f":-0.04},{"w":9122,"f":0.03},{"w":9127,"f":0.05},{"w":9131,"f":-0.07},{"w":9137,"f":0.11},{"w":9142,"f":-0.11},{"w":9146,"f":-0.33},{"w":9151,"f":-0.30},{"w":9156,"f":-0.02},{"w":9163,"f":0.04},{"w":9167,"f":-0.18},{"w":9172,"f":-0.06},{"w":9177,"f":0.03},{"w":9182,"f":0.04},{"w":9187,"f":-0.07},{"w":9192,"f":-0.22},{"w":9197,"f":-0.07},{"w":9202,"f":-0.04},{"w":9207,"f":-0.09},{"w":9212,"f":0.01},{"w":9218,"f":-0.20},{"w":9223,"f":0.14},{"w":9228,"f":0.14},{"w":9233,"f":0.03},{"w":9238,"f":0.02},{"w":9242,"f":-0.23},{"w":9247,"f":0.03},{"w":9253,"f":-0.10},{"w":9257,"f":-0.29},{"w":9262,"f":-0.09},{"w":9267,"f":0.02},{"w":9272,"f":-0.08},{"w":9277,"f":0.08},{"w":9281,"f":0.07},{"w":9285,"f":-0.18},{"w":9290,"f":-0.02},{"w":9294,"f":-0.19},{"w":9300,"f":-0.19}
    ]
  },
  "encoding": {
    "x": {
      "field": "w",
      "type": "quantitative",
      "scale": {"domain": [4752, 9300], "nice": false, "zero": false},
      "axis": {
        "values": [5000, 6000, 7000, 8000, 9000],
        "format": "d",
        "labelFontSize": 27,
        "labelPadding": 19,
        "title": "Wavelength",
        "titleFontSize": 32,
        "titlePadding": 4
      }
    },
    "y": {
      "field": "f",
      "type": "quantitative",
      "scale": {"domain": [-0.75, 0.58], "nice": false, "zero": false},
      "axis": {
        "values": [-0.6, -0.4, -0.2, 0, 0.2, 0.4],
        "format": ".1f",
        "labelFontSize": 35,
        "labelPadding": 17,
        "title": "10⁻¹⁸ erg s⁻¹ cm⁻² Å⁻¹",
        "titleFontSize": 44,
        "titlePadding": 24
      }
    }
  },
  "layer": [
    {
      "data": {"name": "err"},
      "mark": {"type": "line", "color": "#008000", "strokeWidth": 1.4, "clip": true}
    },
    {
      "data": {"name": "model"},
      "mark": {"type": "line", "color": "#0000ff", "strokeWidth": 5.5, "clip": true}
    },
    {
      "data": {"name": "flux"},
      "mark": {"type": "line", "color": "black", "strokeWidth": 3.8, "strokeJoin": "round", "clip": true}
    }
  ]
}
